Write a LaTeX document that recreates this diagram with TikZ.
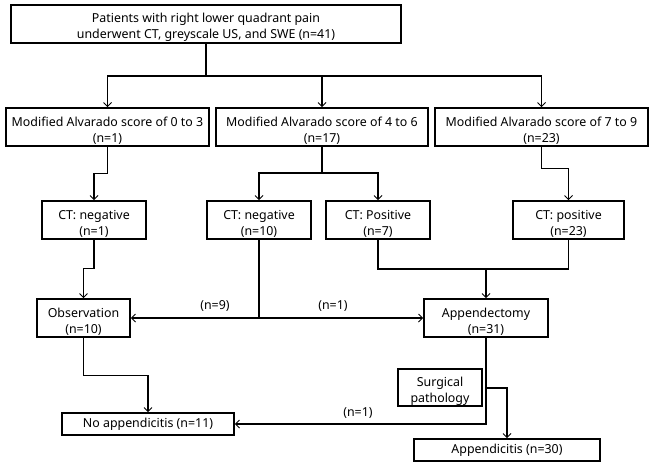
\documentclass[tikz,border=0pt]{standalone}
\usepackage{fontspec}
\setmainfont{Noto Sans}
\usetikzlibrary{arrows.meta}
\newcommand\toplift{\rule{0pt}{16.2pt}}
\begin{document}
\begin{tikzpicture}[x=1pt,y=-1pt,
  box/.style={draw=black,line width=1.6pt,align=center,inner sep=0pt,
    font=\fontsize{12.4}{16}\selectfont},
  thinbox/.style={box,line width=1.1pt},
  conn/.style={line width=1.1pt},
  arr/.style={conn,-{Straight Barb[length=4pt,width=8pt,line width=1pt]}},
  lbl/.style={font=\fontsize{12.4}{16}\selectfont,inner sep=1pt}]
\useasboundingbox[fill=white] (0,0) rectangle (653,467);
\node[box,minimum width=390pt,minimum height=38pt] (top) at (206,24)
  {\toplift Patients with right lower quadrant pain\\underwent CT, greyscale US, and SWE (n=41)};
\node[box,minimum width=203pt,minimum height=38pt] (a1) at (107.5,127)
  {\toplift Modified Alvarado score of 0 to 3\\(n=1)};
\node[box,minimum width=212pt,minimum height=38pt] (a2) at (322,127)
  {\toplift Modified Alvarado score of 4 to 6\\(n=17)};
\node[box,minimum width=213pt,minimum height=38pt] (a3) at (541.5,127)
  {\toplift Modified Alvarado score of 7 to 9\\(n=23)};
\node[box,minimum width=104pt,minimum height=38pt] (c1) at (94,220)
  {\toplift CT: negative\\(n=1)};
\node[box,minimum width=104pt,minimum height=38pt] (c2) at (259,220)
  {\toplift CT: negative\\(n=10)};
\node[box,minimum width=104pt,minimum height=38pt] (c3) at (378,220)
  {\toplift CT: Positive\\(n=7)};
\node[box,minimum width=111pt,minimum height=38pt] (c4) at (568.5,220)
  {\toplift CT: positive\\(n=23)};
\node[box,minimum width=93pt,minimum height=38pt] (obs) at (83.5,318)
  {\toplift Observation\\(n=10)};
\node[box,minimum width=124pt,minimum height=38pt] (app) at (486,318)
  {\toplift Appendectomy\\(n=31)};
\node[thinbox,minimum width=84pt,minimum height=37pt] (sp) at (440,387.5)
  {\toplift Surgical\\pathology};
\node[box,minimum width=172pt,minimum height=22pt] (noapp) at (148,424)
  {No appendicitis (n=11)};
\node[box,minimum width=186pt,minimum height=22pt] (appd) at (507,450)
  {Appendicitis (n=30)};
% connectors
\coordinate (j0) at (206,76);
\draw[conn] (top.south) -- (j0);
\draw[arr] (j0) -| (a1.north);
\draw[arr] (j0) -| (a2.north);
\draw[arr] (j0) -| (a3.north);
\draw[arr] (a1.south) -- ++(0,27) -| (c1.north);
\coordinate (j2) at (322,173);
\draw[conn] (a2.south) -- (j2);
\draw[arr] (j2) -| (c2.north);
\draw[arr] (j2) -| (c3.north);
\draw[arr] (a3.south) -- ++(0,22) -| (c4.north);
\draw[arr] (c1.south) -- ++(0,29) -| (obs.north);
\coordinate (j3) at (486,269);
\draw[conn] (c3.south) |- (j3) -| (c4.south);
\draw[arr] (j3) -- (app.north);
\coordinate (j4) at (259,318);
\draw[conn] (c2.south) -- (j4);
\draw[arr] (j4) -- (obs.east);
\draw[arr] (j4) -- (app.west);
\node[lbl] (l9) at (215,306) {(n=9)};
\node[lbl] (l1) at (333,306) {(n=1)};
\draw[arr] (obs.south) -- ++(0,38) -| (noapp.north);
\draw[arr] (app.south) |- (noapp.east);
\node[lbl] (l1b) at (358,413) {(n=1)};
\coordinate (j5) at (486,388);
\draw[arr] (j5) -| (appd.north);
\end{tikzpicture}
\end{document}
